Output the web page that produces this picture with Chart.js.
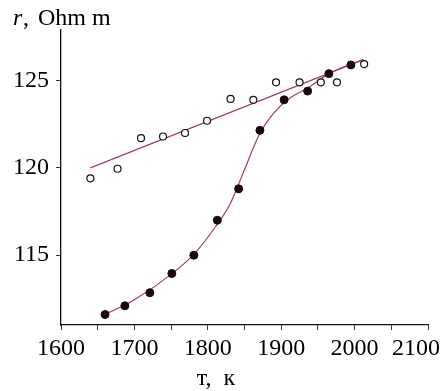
<!DOCTYPE html>
<html>
<head>
<meta charset="utf-8">
<script src="https://cdn.jsdelivr.net/npm/chart.js@4/dist/chart.umd.min.js"></script>
<style>
  html, body { margin: 0; padding: 0; background: #fff; }
  #wrap { width: 446px; height: 391px; }
</style>
</head>
<body>
<div id="wrap"><canvas id="chart" width="446" height="391"></canvas></div>
<script>
// open circles
var openT = [1640, 1677, 1709, 1739, 1769, 1799, 1831, 1862, 1893, 1925, 1954, 1976, 2013];
var openR = [119.4, 119.95, 121.7, 121.8, 122.0, 122.7, 123.95, 123.9, 124.9, 124.9, 124.9, 124.9, 125.95];

// filled circles
var fillT = [1660, 1687, 1721, 1751, 1781, 1813, 1842, 1871, 1904, 1936, 1965, 1995];
var fillR = [111.6, 112.1, 112.85, 113.95, 115.0, 117.0, 118.8, 122.15, 123.9, 124.4, 125.4, 125.9];

// straight fit through the open circles
var lineT = [1640, 2012];
var lineR = [120.0, 126.2];

// smooth fit through the filled circles
var curveT = [1660, 1700, 1750, 1780, 1810, 1830, 1850, 1870, 1890, 1910, 1935, 1965, 1995, 2012];
var curveR = [111.6, 112.45, 113.9, 115.0, 116.6, 117.9, 119.9, 121.9, 123.15, 123.95, 124.55, 125.4, 125.95, 126.2];

var xTicks = [1600, 1700, 1800, 1900, 2000, 2100];
var yTicks = [115, 120, 125];

function pts(xs, ys) {
  return xs.map(function(x, i) { return { x: x, y: ys[i] }; });
}

var serif = "'Liberation Serif', 'Times New Roman', serif";
var fitColor = '#a0444c';

// axis captions
var captions = {
  id: 'captions',
  afterDraw: function(chart) {
    var ctx = chart.ctx;
    ctx.save();
    ctx.fillStyle = '#000';
    ctx.textBaseline = 'alphabetic';
    ctx.textAlign = 'left';
    ctx.font = 'italic 24px ' + serif;
    ctx.fillText('r', 13, 25);
    ctx.font = '24px ' + serif;
    ctx.fillText(',', 23, 25);
    ctx.fillText('Ohm m', 38, 25);
    ctx.textAlign = 'center';
    ctx.fillText('т,  к', 216, 385);
    ctx.restore();
  }
};

new Chart(document.getElementById('chart'), {
  type: 'scatter',
  data: {
    datasets: [{
      data: pts(openT, openR),
      showLine: false,
      pointRadius: 3.5,
      pointBorderWidth: 1.2,
      pointBackgroundColor: '#fff',
      pointBorderColor: '#111',
      order: 1
    }, {
      data: pts(fillT, fillR),
      showLine: false,
      pointRadius: 4,
      pointBorderWidth: 1,
      pointBackgroundColor: '#1a0808',
      pointBorderColor: '#1a0808',
      order: 1
    }, {
      data: pts(lineT, lineR),
      showLine: true,
      pointRadius: 0,
      borderColor: fitColor,
      borderWidth: 1.2,
      order: 2
    }, {
      data: pts(curveT, curveR),
      showLine: true,
      pointRadius: 0,
      borderColor: fitColor,
      borderWidth: 1.2,
      cubicInterpolationMode: 'monotone',
      order: 2
    }]
  },
  options: {
    responsive: false,
    animation: false,
    devicePixelRatio: 1,
    layout: { padding: { top: 30, right: 18, left: 0, bottom: 0 } },
    plugins: { legend: { display: false }, tooltip: { enabled: false } },
    scales: {
      x: {
        type: 'linear',
        min: 1600,
        max: 2100,
        afterBuildTicks: function(scale) {
          var t = [];
          for (var v = 1600; v <= 2100; v += 50) t.push({ value: v });
          scale.ticks = t;
        },
        afterFit: function(scale) {
          scale.height = 66;
          scale.paddingLeft = 0;
          scale.paddingRight = 0;
        },
        border: { display: true, color: '#111', width: 1.3 },
        grid: { display: true, drawOnChartArea: false, drawTicks: true, tickLength: 5, color: '#333', tickWidth: 1 },
        ticks: {
          autoSkip: false,
          maxRotation: 0,
          padding: 4,
          color: '#000',
          font: { family: serif, size: 24 },
          callback: function(v) {
            if (xTicks.indexOf(v) < 0) return '';
            // last label is pulled in to stay on the canvas
            return v === 2100 ? String(v) + '\u2007\u2007' : String(v);
          }
        }
      },
      y: {
        type: 'linear',
        min: 111,
        max: 127.9,
        afterBuildTicks: function(scale) {
          scale.ticks = yTicks.map(function(v) { return { value: v }; });
        },
        afterFit: function(scale) { scale.width = 61; },
        border: { display: true, color: '#111', width: 1.3 },
        grid: { display: true, drawOnChartArea: false, drawTicks: true, tickLength: 5, color: '#333', tickWidth: 1 },
        ticks: {
          padding: 7,
          color: '#000',
          font: { family: serif, size: 24 },
          callback: function(v) { return String(v); }
        }
      }
    }
  },
  plugins: [captions]
});
</script>
</body>
</html>
